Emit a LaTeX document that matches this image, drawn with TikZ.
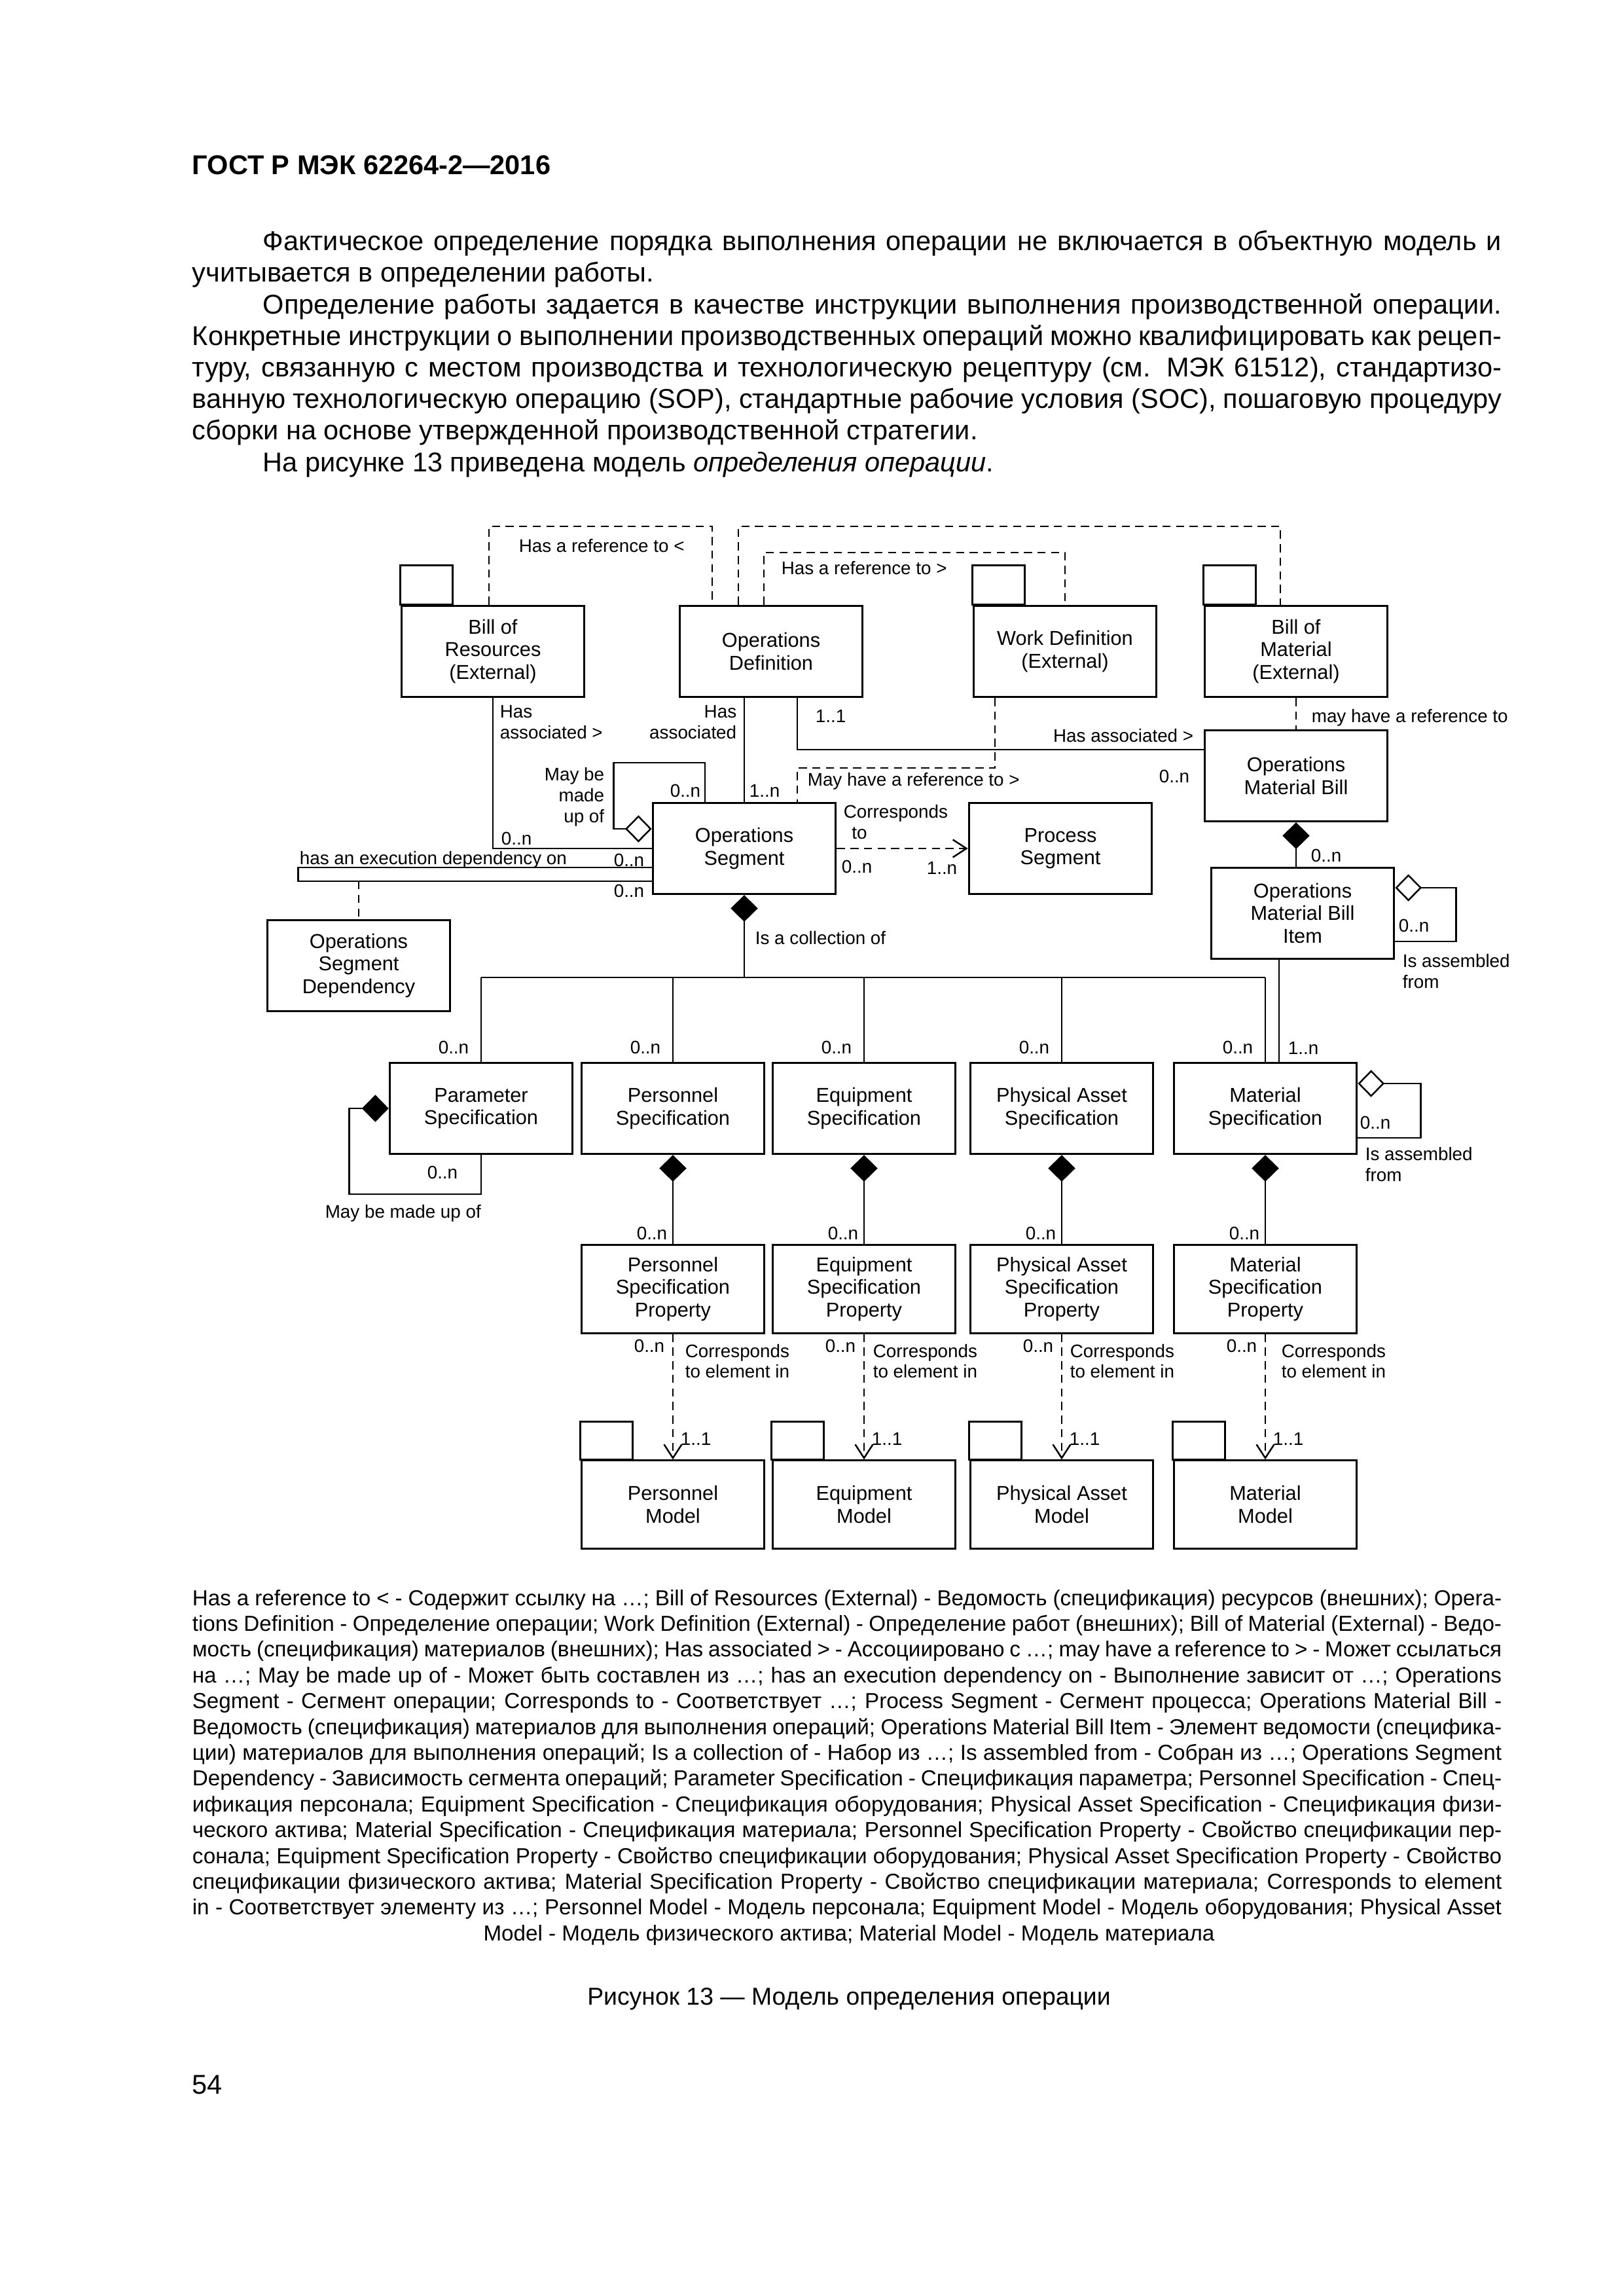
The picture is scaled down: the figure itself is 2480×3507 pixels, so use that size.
\documentclass[tikz,border=0pt]{standalone}
\usepackage{fontspec}
\setmainfont{Liberation Sans}
\usetikzlibrary{arrows.meta,positioning}
\newlength{\pagetextw}
\setlength{\pagetextw}{482pt}

\begin{document}
\begin{tikzpicture}[x=0.0084677cm,y=-0.0084677cm,
  umlbox/.style={draw,line width=0.7pt,minimum width=67.4pt,minimum height=33.6pt,align=center,inner sep=1pt,font=\fontsize{7.4}{8.3}\selectfont},
  lowbox/.style={umlbox,minimum height=32.4pt},
  lbl/.style={inner sep=0pt,font=\fontsize{6.7}{7.6}\selectfont},
  assoc/.style={line width=0.6pt},
  refline/.style={line width=0.6pt,dash pattern=on 3pt off 2pt},
  filleddia/.style={arrows={Diamond[length=9.8pt,width=10pt]-}},
  opendia/.style={arrows={Diamond[open,length=9.8pt,width=10pt]-}},
  refarrow/.style={arrows={-Straight Barb[length=5pt,width=6.5pt]}},
  bodyline/.style={anchor=base west,inner sep=0pt,font=\fontsize{10}{11.6}\selectfont},
  legline/.style={anchor=base west,inner sep=0pt,font=\fontsize{8}{9.4}\selectfont}]

\useasboundingbox (0,0) rectangle (2480,3507);
\fill[white] (0,0) rectangle (2480,3507);

% page text
\node[anchor=base west,inner sep=0pt,font=\fontsize{10}{12}\selectfont\bfseries] (gost) at (293,266) {ГОСТ Р МЭК 62264-2—2016};
\node[bodyline] (p1) at (293,382) {\makebox[\pagetextw][s]{\hspace*{26pt}Фактическое определение порядка выполнения операции не включается в объектную модель и}};
\node[bodyline] (p2) at (293,430) {учитывается в определении работы.};
\node[bodyline] (p3) at (293,479) {\makebox[\pagetextw][s]{\hspace*{26pt}Определение работы задается в качестве инструкции выполнения производственной операции.}};
\node[bodyline] (p4) at (293,527) {\makebox[\pagetextw][s]{Конкретные инструкции о выполнении производственных операций можно квалифицировать как рецеп-}};
\node[bodyline] (p5) at (293,575) {\makebox[\pagetextw][s]{туру, связанную с местом производства и технологическую рецептуру (см. МЭК 61512), стандартизо-}};
\node[bodyline] (p6) at (293,623) {\makebox[\pagetextw][s]{ванную технологическую операцию (SOP), стандартные рабочие условия (SOC), пошаговую процедуру}};
\node[bodyline] (p7) at (293,671) {сборки на основе утвержденной производственной стратегии.};
\node[bodyline] (p8) at (293,720) {\hspace*{26pt}На рисунке 13 приведена модель \textit{определения операции}.};

% upper boxes
\node[umlbox] (bor) at (753,995) {Bill of\\Resources\\(External)};
\node[umlbox] (opdef) at (1178,995) {Operations\\Definition};
\node[umlbox] (workdef) at (1627,995) {Work Definition\\(External)};
\node[umlbox] (bom) at (1980,995) {Bill of\\Material\\(External)};
\node[umlbox] (omb) at (1980,1185) {Operations\\Material Bill};
\node[umlbox] (opseg) at (1137,1296) {Operations\\Segment};
\node[umlbox] (procseg) at (1620,1296) {Process\\Segment};
\node[umlbox] (ombi) at (1990,1395) {Operations\\Material Bill\\Item};
\node[umlbox] (osd) at (548,1475) {Operations\\Segment\\Dependency};
\node[umlbox] (parspec) at (735,1693) {Parameter\\Specification};
\draw[line width=0.7pt] (bor.north west) rectangle ++(80,-60);
\draw[line width=0.7pt] (workdef.north west) rectangle ++(80,-60);
\draw[line width=0.7pt] (bom.north west) rectangle ++(80,-60);

% references at the top
\draw[refline] ([shift={(-6,0)}]bor.north) -- ++(0,-120) -| ([shift={(-90,0)}]opdef.north);
\draw[refline] ([shift={(-50,0)}]opdef.north) -- ++(0,-120) -| ([shift={(-24,0)}]bom.north);
\draw[refline] ([shift={(-11,0)}]opdef.north) -- ++(0,-80) -| (workdef.north);
\node[lbl,anchor=mid west] (lref1) at (792,833) {Has a reference to <};
\node[lbl,anchor=mid west] (lref2) at (1193,867) {Has a reference to >};

% associations of the operations segment
\draw[assoc] (bor.south) |- (opseg.west);
\draw[assoc] (opseg.north |- opdef.south) -- (opseg.north);
\draw[assoc] ([shift={(40,0)}]opdef.south) |- ([shift={(0,-40)}]omb.west);
\draw[refline] ([shift={(-107,0)}]workdef.south) -- ++(0,107) -| ([shift={(81,0)}]opseg.north);
\draw[refline] (bom.south) -- (omb.north);
\draw[assoc,opendia] ([shift={(0,-30)}]opseg.west) -- ++(-58,0) |- ([shift={(-60,-60)}]opseg.north) -- ([shift={(-60,0)}]opseg.north);
\draw[assoc] ([shift={(0,29)}]opseg.west) -- ++(-540,0) -- ++(0,21) -- ([shift={(0,50)}]opseg.west);
\coordinate (execlow) at ([shift={(0,50)}]opseg.west);
\draw[refline] (execlow -| osd.north) -- (osd.north);
\draw[refline,refarrow] (opseg.east) -- (procseg.west);
\node[lbl,anchor=north west,align=left] (lbor) at (763,1077) {Has\\associated >};
\node[lbl,anchor=north east,align=right] (lopdef) at (1126,1077) {Has\\associated};
\node[lbl,anchor=mid west] (lone) at (1245,1093) {1..1};
\node[lbl,anchor=mid east] (lomb) at (1824,1123) {Has associated >};
\node[lbl,anchor=mid west] (lbom) at (2003,1093) {may have a reference to};
\node[lbl,anchor=mid east] (lombn) at (1818,1185) {0..n};
\node[lbl,anchor=north east,align=right] (lmade) at (924,1172) {May be\\made\\up of};
\node[lbl,anchor=mid east] (lmaden) at (1071,1207) {0..n};
\node[lbl,anchor=mid west] (lopsn) at (1144,1207) {1..n};
\node[lbl,anchor=mid west] (lwork) at (1233,1190) {May have a reference to >};
\node[lbl,anchor=north west,align=left] (lcorr) at (1288,1229) {Corresponds\\\hspace*{3pt}to};
\node[lbl,anchor=mid west] (lborn) at (765,1280) {0..n};
\node[lbl,anchor=mid west] (lexec) at (457,1310) {has an execution dependency on};
\node[lbl,anchor=mid east] (lexn1) at (985,1313) {0..n};
\node[lbl,anchor=mid east] (lexn2) at (985,1360) {0..n};
\node[lbl,anchor=mid west] (lcorn) at (1285,1323) {0..n};
\node[lbl,anchor=mid east] (lprocn) at (1463,1325) {1..n};

% operations material bill
\draw[assoc,filleddia] (omb.south) -- (omb.south |- ombi.north);
\draw[assoc,opendia] ([shift={(0,-39)}]ombi.east) -- ++(93,0) |- ([shift={(0,43)}]ombi.east);
\coordinate (ombiout) at ([shift={(-36,0)}]ombi.south);
\node[lbl,anchor=mid west] (litemn) at (2002,1306) {0..n};
\node[lbl,anchor=mid west] (litemloop) at (2136,1413) {0..n};
\node[lbl,anchor=north west,align=left] (lasm1) at (2142,1457) {Is assembled\\from};

% specifications
\foreach \nm/\cx/\txt/\dx in {per/1028/Personnel/18, eq/1320/Equipment/13, pa/1622/Physical Asset/12, mat/1933/Material/24} {
  \node[umlbox] (\nm spec) at (\cx,1693) {\txt\\Specification};
  \node[lowbox] (\nm prop) at (\cx,1969) {\txt\\Specification\\Property};
  \node[lowbox] (\nm model) at (\cx,2298) {\txt\\Model};
  \draw[line width=0.7pt] (\nm model.north west) rectangle ++(80,-58);
  \draw[assoc,filleddia] (\nm spec.south) -- (\nm prop.north);
  \draw[refline,refarrow] (\nm prop.south) -- (\nm model.north);
  \node[lbl,anchor=mid east] (\nm n1) at (\cx-8,1883) {0..n};
  \node[lbl,anchor=mid east] (\nm n2) at (\cx-12,2055) {0..n};
  \node[lbl,anchor=north west,align=left] (\nm cor) at (\cx+\dx,2052) {Corresponds\\to element in};
  \node[lbl,anchor=mid west] (\nm one) at (\cx+11,2197) {1..1};
}
\coordinate (busy) at (0,1493);
\draw[assoc,filleddia] (opseg.south) -- (opseg.south |- busy);
\draw[assoc] (parspec.north |- busy) -- (matspec.north |- busy);
\foreach \nm in {par,per,eq,pa,mat} {
  \draw[assoc] (\nm spec.north |- busy) -- (\nm spec.north);
  \node[lbl,anchor=mid east] (\nm top) at ([shift={(-18,-23)}]\nm spec.north) {0..n};
}
\draw[assoc] (ombiout) -- (ombiout |- matspec.north);
\draw[assoc,filleddia] (parspec.west) -- ++(-60,0) |- ([shift={(0,60)}]parspec.south) -- (parspec.south);
\draw[assoc,opendia] ([shift={(0,-38)}]matspec.east) -- ++(96,0) |- ([shift={(0,45)}]matspec.east);
\node[lbl,anchor=mid west] (lcoll) at (1153,1432) {Is a collection of};
\node[lbl,anchor=mid west] (lmatn) at (1967,1600) {1..n};
\node[lbl,anchor=mid west] (lmatloop) at (2077,1714) {0..n};
\node[lbl,anchor=north west,align=left] (lasm2) at (2085,1752) {Is assembled\\from};
\node[lbl,anchor=mid east] (lparn) at (700,1790) {0..n};
\node[lbl,anchor=mid west] (lparmade) at (496,1850) {May be made up of};

% legend
\foreach \ln [count=\i from 0] in {
  {Has a reference to < - Содержит ссылку на …; Bill of Resources (External) - Ведомость (спецификация) ресурсов (внешних); Opera-},
  {tions Definition - Определение операции; Work Definition (External) - Определение работ (внешних); Bill of Material (External) - Ведо-},
  {мость (спецификация) материалов (внешних); Has associated > - Ассоциировано с …; may have a reference to > - Может ссылаться},
  {на …; May be made up of - Может быть составлен из …; has an execution dependency on - Выполнение зависит от …; Operations},
  {Segment - Сегмент операции; Corresponds to - Соответствует …; Process Segment - Сегмент процесса; Operations Material Bill -},
  {Ведомость (спецификация) материалов для выполнения операций; Operations Material Bill Item - Элемент ведомости (специфика-},
  {ции) материалов для выполнения операций; Is a collection of - Набор из …; Is assembled from - Собран из …; Operations Segment},
  {Dependency - Зависимость сегмента операций; Parameter Specification - Спецификация параметра; Personnel Specification - Спец-},
  {ификация персонала; Equipment Specification - Спецификация оборудования; Physical Asset Specification - Спецификация физи-},
  {ческого актива; Material Specification - Спецификация материала; Personnel Specification Property - Свойство спецификации пер-},
  {сонала; Equipment Specification Property - Свойство спецификации оборудования; Physical Asset Specification Property - Свойство},
  {спецификации физического актива; Material Specification Property - Свойство спецификации материала; Corresponds to element},
  {in - Соответствует элементу из …; Personnel Model - Модель персонала; Equipment Model - Модель оборудования; Physical Asset}} {
  \node[legline] (leg\i) at (293,2452+39.4*\i) {\makebox[\pagetextw][s]{\ln}};
}
\node[anchor=base,inner sep=0pt,font=\fontsize{8}{9.4}\selectfont] (leglast) at (1297,2964) {Model - Модель физического актива; Material Model - Модель материала};

\node[anchor=base,inner sep=0pt,font=\fontsize{9}{11}\selectfont] (caption) at (1297,3062) {Рисунок 13 — Модель определения операции};
\node[anchor=base west,inner sep=0pt,font=\fontsize{10}{12}\selectfont] (pagenum) at (293,3198) {54};
\end{tikzpicture}
\end{document}
